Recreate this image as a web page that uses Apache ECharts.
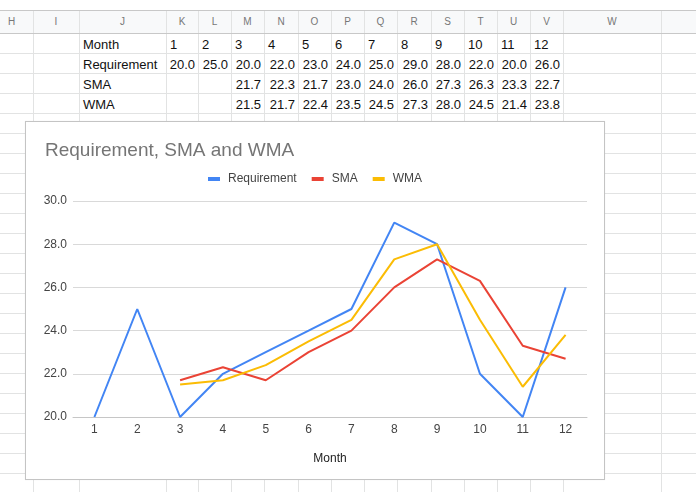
<!DOCTYPE html>
<html><head><meta charset="utf-8">
<script src="https://cdn.jsdelivr.net/npm/echarts/dist/echarts.min.js"></script>
<style>
html,body{margin:0;padding:0;background:#fff;}
body{width:696px;height:492px;overflow:hidden;position:relative;font-family:"Liberation Sans",Arial,sans-serif;}
.vl{position:absolute;width:1px;background:#e2e3e3;}
.hl{position:absolute;height:1px;background:#e2e3e3;}
.hdr{position:absolute;top:10px;height:23px;line-height:23px;text-align:center;font-size:10px;color:#777;}
.cell{position:absolute;height:20px;line-height:20px;font-size:13px;color:#111;white-space:nowrap;}
#wrap{position:absolute;left:25px;top:121px;width:580px;height:359px;box-sizing:border-box;border:1px solid #c4c4c4;background:#fff;box-shadow:0 0 1px rgba(0,0,0,0.08);}
#chart{width:578px;height:357px;}
</style></head>
<body>
<div id="wrap"><div id="chart"></div></div>
<script>
// ---- data ----
var months = ['1','2','3','4','5','6','7','8','9','10','11','12'];
var requirement = [20.0,25.0,20.0,22.0,23.0,24.0,25.0,29.0,28.0,22.0,20.0,26.0];
var sma = [null,null,21.7,22.3,21.7,23.0,24.0,26.0,27.3,26.3,23.3,22.7];
var wma = [null,null,21.5,21.7,22.4,23.5,24.5,27.3,28.0,24.5,21.4,23.8];
var rowLabels = ['Month','Requirement','SMA','WMA'];
var colLetters = ['H','I','J','K','L','M','N','O','P','Q','R','S','T','U','V','W',''];
var yTicks = [20,22,24,26,28,30];

// ---- spreadsheet layout ----
var colEdges = [-10,33,79,166,198,231,264,298,331,364,397,431,464,497,530,563,661,760];
var body = document.body;
function add(cls, css, txt){var d=document.createElement('div');d.className=cls;for(var k in css)d.style[k]=css[k];if(txt!==undefined)d.textContent=txt;body.insertBefore(d, document.getElementById('wrap'));return d;}
add('', {position:'absolute',left:'0px',top:'10px',width:'696px',height:'23px',background:'#f8f9fa'});
for (var i=0;i<colEdges.length;i++){
  add('vl',{left:colEdges[i]+'px',top:'10px',height:'482px'});
}
for (var y=10; y<=492; ){
  add('hl',{left:'0px',top:y+'px',width:'696px',background:(y<=33?'#c8c8c8':'#e2e3e3')});
  y = (y===10)?33:y+20;
}
for (var c=0;c<colLetters.length;c++){
  add('hdr',{left:colEdges[c]+'px',width:(colEdges[c+1]-colEdges[c])+'px'},colLetters[c]);
}
var rowTops=[33,53,73,93];
for (var r=0;r<4;r++){
  add('cell',{left:(colEdges[2]+4)+'px',top:(rowTops[r]+2)+'px'},rowLabels[r]);
}
for (var m=0;m<12;m++){
  var x0=colEdges[3+m], x1=colEdges[4+m];
  add('cell',{left:(x0+4)+'px',top:(rowTops[0]+2)+'px'},months[m]);
  var vals=[requirement[m],sma[m],wma[m]];
  for (var r2=0;r2<3;r2++){
    if (vals[r2]===null) continue;
    add('cell',{left:(x0)+'px',width:(x1-x0-3)+'px',textAlign:'right',top:(rowTops[r2+1]+2)+'px'},vals[r2].toFixed(1));
  }
}

// ---- chart ----
var chart = echarts.init(document.getElementById('chart'), null, {renderer:'canvas'});
var ff = '"Liberation Sans", Arial, sans-serif';
chart.setOption({
  animation:false,
  backgroundColor:'#fff',
  title:{text:'Requirement, SMA and WMA', left:19, top:19, padding:0,
    textStyle:{fontSize:19, fontWeight:'normal', color:'#757575', fontFamily:ff}},
  legend:{top:51, left:'center', padding:0, itemGap:15, itemWidth:12, itemHeight:4, icon:'rect',
    textStyle:{fontSize:12, color:'#444', fontFamily:ff, padding:[0,0,0,3]},
    data:['Requirement','SMA','WMA']},
  color:['#4285f4','#ea4335','#fbbc04'],
  grid:{left:47, right:17, top:79, bottom:62},
  xAxis:{type:'category', data:months, boundaryGap:true,
    name:'Month', nameLocation:'middle', nameGap:36,
    nameTextStyle:{fontSize:12, color:'#222', fontFamily:ff},
    axisTick:{show:false},
    axisLine:{lineStyle:{color:'#c6c6c6', width:1}},
    axisLabel:{fontSize:12, color:'#444', margin:7, fontFamily:ff}},
  yAxis:{type:'value', min:yTicks[0], max:yTicks[yTicks.length-1], interval:2,
    axisLine:{show:false}, axisTick:{show:false},
    axisLabel:{fontSize:12, color:'#444', margin:6, fontFamily:ff, formatter:function(v){return v.toFixed(1);}},
    splitLine:{lineStyle:{color:'#d9d9d9', width:1}}},
  series:[
    {name:'Requirement', type:'line', data:requirement, showSymbol:false, lineStyle:{width:2}},
    {name:'SMA', type:'line', data:sma, showSymbol:false, lineStyle:{width:2}},
    {name:'WMA', type:'line', data:wma, showSymbol:false, lineStyle:{width:2}}
  ]
});
</script>
</body></html>
